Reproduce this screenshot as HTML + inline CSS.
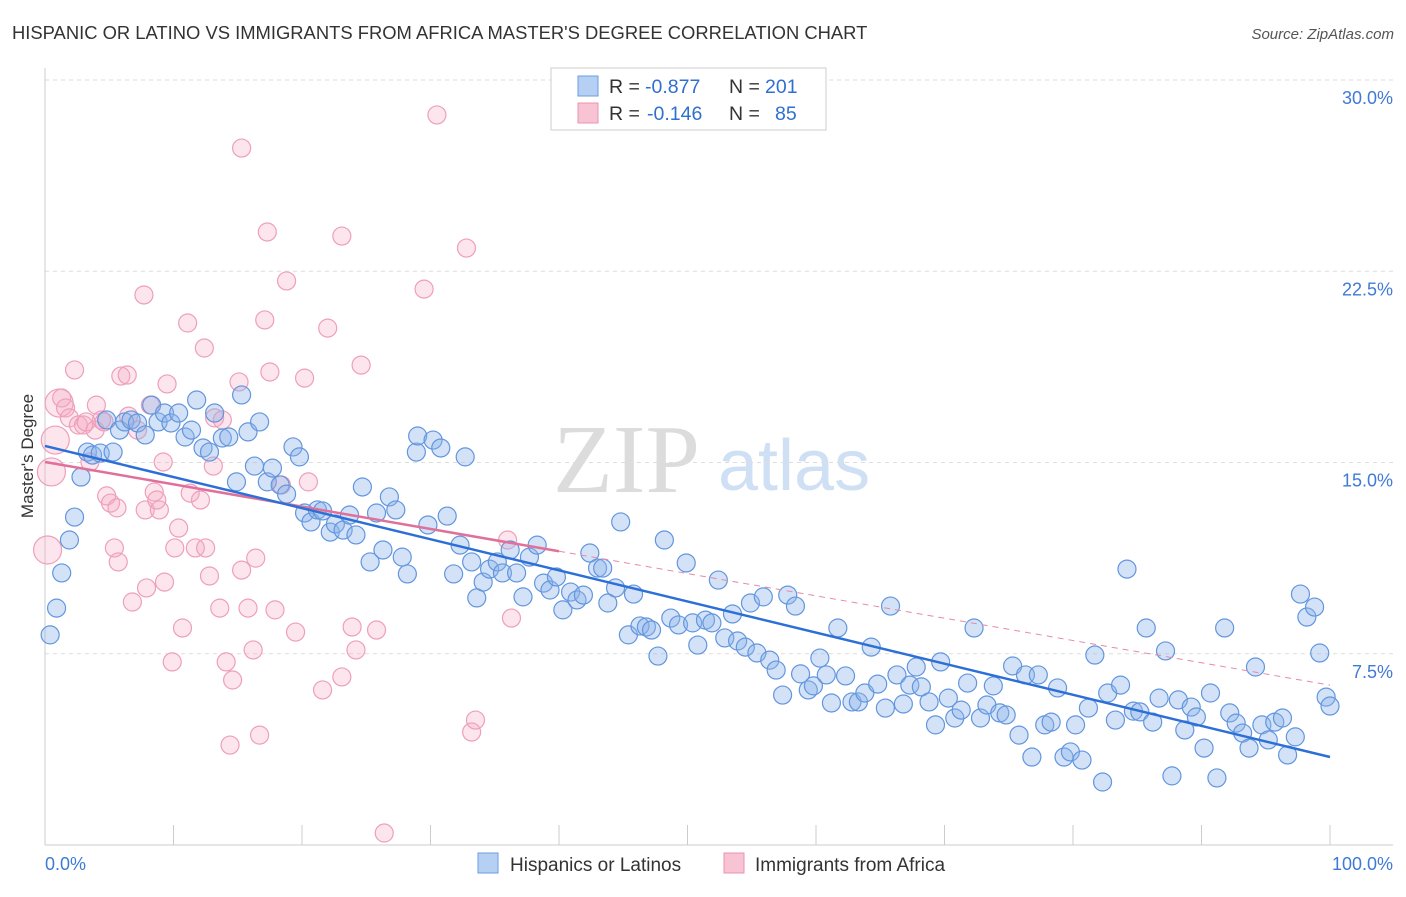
<!DOCTYPE html>
<html><head><meta charset="utf-8">
<style>
body{margin:0;background:#fff;}
svg text{font-family:"Liberation Sans",sans-serif;}
</style></head>
<body>
<svg id="chart" width="1406" height="892" viewBox="0 0 1406 892" xmlns="http://www.w3.org/2000/svg">
<rect width="1406" height="892" fill="#fff"/>
<text x="12" y="39" font-size="18.4" fill="#333">HISPANIC OR LATINO VS IMMIGRANTS FROM AFRICA MASTER'S DEGREE CORRELATION CHART</text>
<text x="1394" y="39" font-size="15" fill="#555" font-style="italic" text-anchor="end">Source: ZipAtlas.com</text>
<g>
<text x="553" y="492" font-size="98" fill="#dcdcdc" style="font-family:'Liberation Serif',serif">ZIP</text>
<text x="718" y="490" font-size="72" fill="#cfe0f5">atlas</text>
</g>
<g id="grid"></g>
<g id="axes"></g>
<g id="pinkPts"></g>
<g id="bluePts"></g>
<g id="lines"></g>
<text transform="translate(33,456) rotate(-90)" font-size="17" fill="#333" text-anchor="middle">Master's Degree</text>
<g>
<rect x="551" y="68" width="275" height="62" fill="#fff" stroke="#ccc"/>
<rect x="578" y="76" width="20" height="20" fill="#b5d0f3" stroke="#6b9be0"/>
<rect x="578" y="103" width="20" height="20" fill="#f8c3d3" stroke="#e993b0"/>
<text x="609" y="93" font-size="19.5" fill="#333">R =</text>
<text x="645" y="93" font-size="19.5" fill="#2f6fd0">-0.877</text>
<text x="729" y="93" font-size="19.5" fill="#333">N =</text>
<text x="765" y="93" font-size="19.5" fill="#2f6fd0">201</text>
<text x="609" y="120" font-size="19.5" fill="#333">R =</text>
<text x="647" y="120" font-size="19.5" fill="#2f6fd0">-0.146</text>
<text x="729" y="120" font-size="19.5" fill="#333">N =</text>
<text x="775" y="120" font-size="19.5" fill="#2f6fd0">85</text>
</g>
<g>
<rect x="478" y="853" width="20" height="20" fill="#b5d0f3" stroke="#6b9be0"/>
<text x="510" y="871" font-size="19" fill="#333">Hispanics or Latinos</text>
<rect x="724" y="853" width="20" height="20" fill="#f8c3d3" stroke="#e993b0"/>
<text x="755" y="871" font-size="19" fill="#333">Immigrants from Africa</text>
</g>
</svg>
<script>
const yTicks=[7.5,15,22.5,30];
const yTickLabels=["7.5%","15.0%","22.5%","30.0%"];
const xTickVals=[0,10,20,30,40,50,60,70,80,90,100];
const blueX=[0.4,0.9,1.3,1.9,2.3,2.8,3.3,3.7,4.3,4.8,5.3,5.8,6.2,6.7,7.2,7.8,8.3,8.8,9.3,9.8,10.4,10.9,11.4,11.8,12.3,12.8,13.2,13.8,14.3,14.9,15.3,15.8,16.3,16.7,17.3,17.7,18.3,18.8,19.3,19.8,20.2,20.7,21.2,21.6,22.2,22.6,23.2,23.7,24.2,24.7,25.3,25.8,26.3,26.8,27.3,27.8,28.2,28.9,29.0,29.8,30.2,30.8,31.3,31.8,32.3,32.7,33.2,33.6,34.1,34.6,35.2,35.6,36.2,36.7,37.2,37.7,38.3,38.8,39.3,39.8,40.3,40.9,41.4,41.9,42.4,43.0,43.4,43.8,44.4,44.8,45.4,45.8,46.3,46.8,47.2,47.7,48.2,48.7,49.3,49.9,50.4,50.8,51.4,51.9,52.4,52.9,53.5,53.9,54.5,54.9,55.4,55.9,56.4,56.9,57.4,57.8,58.4,58.8,59.4,59.8,60.3,60.8,61.2,61.7,62.3,62.8,63.3,63.8,64.3,64.8,65.4,65.8,66.3,66.8,67.3,67.8,68.2,68.8,69.3,69.7,70.3,70.8,71.3,71.8,72.3,72.8,73.3,73.8,74.3,74.8,75.3,75.8,76.3,76.8,77.3,77.8,78.3,78.8,79.3,79.8,80.2,80.7,81.2,81.7,82.3,82.7,83.3,83.7,84.2,84.7,85.2,85.7,86.2,86.7,87.2,87.7,88.2,88.7,89.2,89.6,90.2,90.7,91.2,91.8,92.2,92.7,93.2,93.7,94.2,94.7,95.2,95.7,96.3,96.7,97.3,97.7,98.2,98.8,99.2,99.7,100];
const blueY=[8.24,9.29,10.67,11.96,12.86,14.43,15.41,15.29,15.37,16.67,15.41,16.27,16.59,16.67,16.55,16.08,17.25,16.59,16.94,16.55,16.94,16.0,16.27,17.45,15.57,15.41,16.94,15.96,16.0,14.24,17.65,16.2,14.86,16.59,14.24,14.78,14.12,13.76,15.61,15.22,13.02,12.67,13.14,13.1,12.27,12.59,12.35,12.94,12.16,14.04,11.1,13.02,11.57,13.65,13.14,11.29,10.63,15.41,16.04,12.55,15.88,15.57,12.9,10.63,11.76,15.22,11.1,9.69,10.31,10.82,11.1,10.67,11.57,10.67,9.73,11.29,11.76,10.27,10.0,10.51,9.22,9.92,9.61,9.8,11.45,10.86,10.86,9.49,10.08,12.67,8.24,9.84,8.59,8.55,8.43,7.41,11.96,8.9,8.63,11.06,8.71,7.84,8.82,8.71,10.39,8.12,9.06,8.0,7.76,9.49,7.53,9.73,7.25,6.86,5.88,9.8,9.37,6.71,6.08,6.24,7.33,6.67,5.57,8.51,6.63,5.61,5.61,5.96,7.76,6.31,5.37,9.37,6.67,5.53,6.27,6.98,6.2,5.61,4.71,7.18,5.76,4.98,5.29,6.35,8.51,4.98,5.49,6.24,5.18,5.1,7.02,4.31,6.67,3.45,6.67,4.71,4.82,6.16,3.45,3.65,4.71,3.33,5.37,7.45,2.47,5.96,4.9,6.27,10.82,5.25,5.22,8.51,4.82,5.76,7.61,2.71,5.69,4.51,5.41,5.02,3.8,5.96,2.63,8.51,5.18,4.78,4.39,3.8,6.98,4.71,4.12,4.82,4.98,3.53,4.24,9.84,8.94,9.33,7.53,5.8,5.45];
const pinkX=[0.2,0.5,0.8,1.1,1.3,1.6,1.9,2.3,2.6,3.0,3.2,3.5,3.9,4.0,4.4,4.6,4.8,5.1,5.4,5.6,5.7,5.9,6.4,6.5,6.8,7.2,7.7,7.8,7.9,8.2,8.5,8.7,8.9,9.2,9.3,9.5,9.9,10.1,10.4,10.7,11.1,11.3,11.7,12.1,12.4,12.5,12.8,13.1,13.2,13.6,13.8,14.1,14.4,14.6,15.1,15.3,15.3,15.8,16.2,16.4,16.7,17.1,17.3,17.5,17.9,18.4,18.8,19.5,20.2,20.5,21.6,22.0,23.1,23.1,23.9,24.2,24.6,25.8,26.4,29.5,30.5,32.8,33.2,33.5,36.0,36.3];
const pinkY=[11.57,14.63,15.88,17.33,17.53,17.14,16.75,18.63,16.47,16.47,16.59,15.02,16.27,17.25,16.67,16.59,13.69,13.41,11.65,13.22,11.1,18.39,18.43,16.82,9.53,16.27,21.57,13.14,10.08,17.25,13.84,13.53,13.14,15.02,10.31,18.08,7.18,11.65,12.43,8.51,20.47,13.8,11.65,13.53,19.49,11.65,10.55,14.86,16.75,9.29,16.67,7.18,3.92,6.47,18.16,27.33,10.78,9.29,7.65,11.25,4.31,20.59,24.04,18.55,9.22,14.12,22.12,8.35,18.31,14.24,6.08,20.27,23.88,6.59,8.55,7.65,18.82,8.43,0.47,21.8,28.63,23.41,4.43,4.9,11.96,8.9];
const pinkBig=[1,1,1,1];
const blueTrend=[15.65,3.45];
const pinkTrend=[15.02,6.27];
const pinkSolidEnd=40;

const X0=45,X1=1330,YB=845,PXPER=25.5;
const xs=v=>X0+(X1-X0)*v/100;
const ys=v=>YB-v*PXPER;
const NS="http://www.w3.org/2000/svg";
function mk(tag,attrs,parent){const e=document.createElementNS(NS,tag);for(const k in attrs)e.setAttribute(k,attrs[k]);parent.appendChild(e);return e;}
const grid=document.getElementById('grid'),axes=document.getElementById('axes');
yTicks.forEach((t,i)=>{
  const l=mk('line',{x1:45,x2:1393,y1:ys(t),y2:ys(t),stroke:'#ddd','stroke-dasharray':'4,4'},grid);
  
  
  const tx=mk('text',{x:1393,y:ys(t)+24,'font-size':18,fill:'#3f7ad6','text-anchor':'end'},axes);
  tx.textContent=yTickLabels[i];
  
  
});
let al=mk('line',{x1:45,x2:45,y1:68,y2:845,stroke:'#ccc'},axes);


al=mk('line',{x1:45,x2:1393,y1:845,y2:845,stroke:'#ccc'},axes);


xTickVals.forEach(v=>{
  const t=mk('line',{x1:xs(v),x2:xs(v),y1:825,y2:845,stroke:'#ccc'},axes);
  
  
});
let xl=mk('text',{x:45,y:870,'font-size':18,fill:'#3f7ad6'},axes);xl.textContent='0.0%';


xl=mk('text',{x:1393,y:870,'font-size':18,fill:'#3f7ad6','text-anchor':'end'},axes);xl.textContent='100.0%';



const pg=document.getElementById('pinkPts');
pinkX.forEach((v,i)=>{
  const c=mk('circle',{cx:xs(v),cy:ys(pinkY[i]),r:pinkBig[i]?14:9,fill:'rgba(244,170,195,0.3)',stroke:'#ee9fba','stroke-width':1.2},pg);
  
  
});
const bg=document.getElementById('bluePts');
blueX.forEach((v,i)=>{
  const c=mk('circle',{cx:xs(v),cy:ys(blueY[i]),r:9,fill:'rgba(140,180,235,0.38)',stroke:'#6296de','stroke-width':1.2},bg);
  
  
});
const lg=document.getElementById('lines');
const pAt=v=>pinkTrend[0]+(pinkTrend[1]-pinkTrend[0])*v/100;
let ln=mk('line',{x1:xs(pinkSolidEnd),y1:ys(pAt(pinkSolidEnd)),x2:xs(100),y2:ys(pinkTrend[1]),stroke:'#e58aa8','stroke-width':1,'stroke-dasharray':'6,5'},lg);


ln=mk('line',{x1:xs(0),y1:ys(pinkTrend[0]),x2:xs(pinkSolidEnd),y2:ys(pAt(pinkSolidEnd)),stroke:'#e0709a','stroke-width':2.5},lg);


ln=mk('line',{x1:xs(0),y1:ys(blueTrend[0]),x2:xs(100),y2:ys(blueTrend[1]),stroke:'#2c6fd6','stroke-width':2.5},lg);


</script>
</body></html>
